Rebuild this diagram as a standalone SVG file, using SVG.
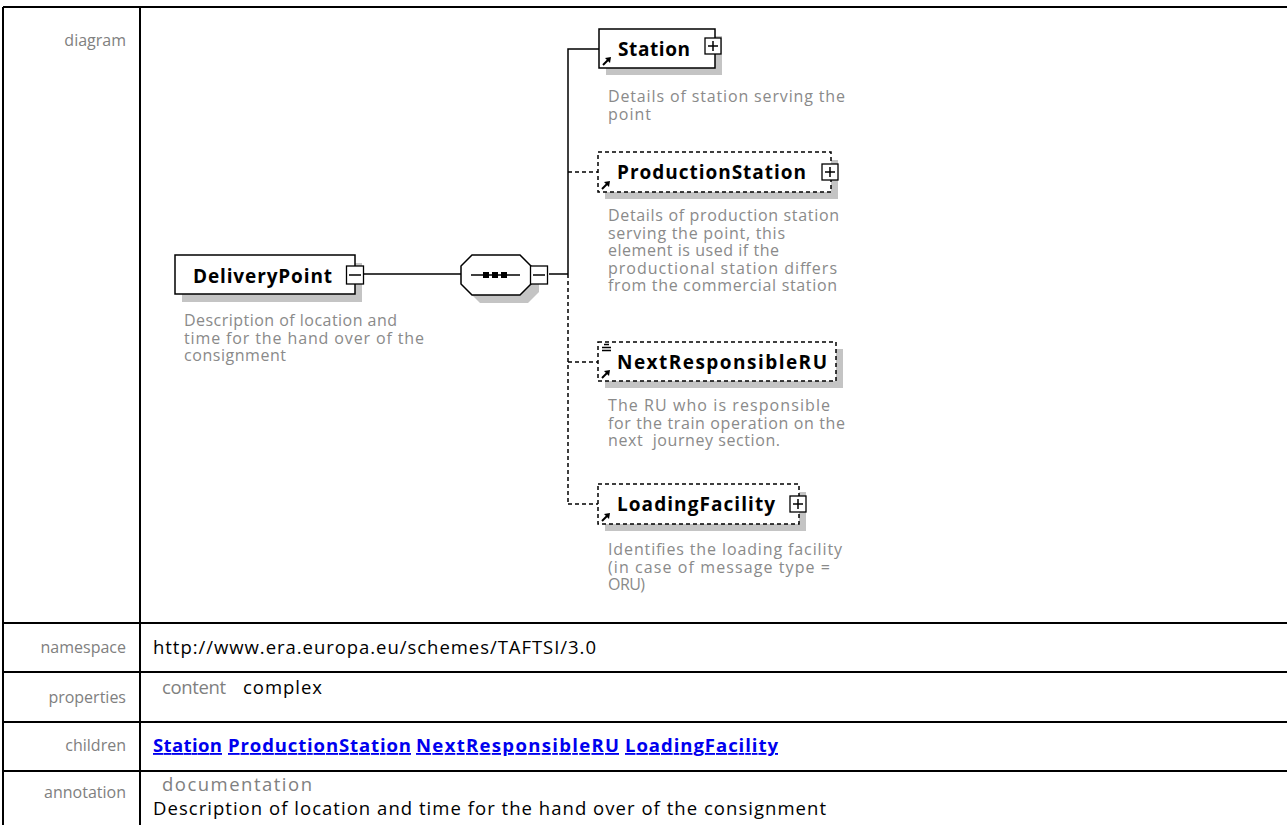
<svg xmlns="http://www.w3.org/2000/svg" width="1287" height="825" viewBox="0 0 1287 825">
<style>
.tbl{stroke:#000;stroke-width:2;fill:none}
.lbl{font-family:"Open Sans","Noto Sans",sans-serif;font-size:16px;fill:#808080}
.lbv{font-family:"Open Sans","Noto Sans",sans-serif;font-size:18.5px;fill:#808080}
.val{font-family:"Open Sans","Noto Sans",sans-serif;font-size:18.5px;fill:#000}
.lnk{font-family:"Open Sans","Noto Sans",sans-serif;font-size:18.5px;font-weight:bold;fill:#0000ee;text-decoration:underline}
.box{fill:#fff;stroke:#000;stroke-width:1.5}
.opt{stroke-dasharray:4 3}
.shd{fill:#c4c4c4}
.name{font-family:"Open Sans","Noto Sans",sans-serif;font-size:19px;font-weight:bold;fill:#000}
.desc{font-family:"Open Sans","Noto Sans",sans-serif;font-size:16px;fill:#8a8a8a}
.conn{stroke:#000;stroke-width:1.5;fill:none}
.dash{stroke-dasharray:4 3}
.pm{fill:#fff;stroke:#000;stroke-width:1.3}
</style>
<defs>
<g id="plus"><rect x="-8" y="-8" width="16" height="16" class="pm"/><path d="M-5 0H5M0-5V5" stroke="#000" stroke-width="1.5"/></g>
<g id="minus"><rect x="-8.5" y="-9" width="17" height="18" class="pm"/><path d="M-6 0H6" stroke="#000" stroke-width="1.5"/></g>
<g id="ref"><path d="M0 0L6-6" stroke="#000" stroke-width="2"/><path d="M8-8L2-7L7-2Z" fill="#000"/></g>
</defs>

<g id="table">
<path class="tbl" d="M3 7H1287M3 7V825M140 7V825M3 623H1287M3 672H1287M3 722H1287M3 771H1287"/>
<text class="lbl" x="126" y="46" text-anchor="end">diagram</text>
<text class="lbl" x="126" y="653" text-anchor="end">namespace</text>
<text class="lbl" x="126" y="703" text-anchor="end">properties</text>
<text class="lbl" x="126" y="751" text-anchor="end">children</text>
<text class="lbl" x="126" y="798" text-anchor="end">annotation</text>
<text class="val" x="153" y="654" textLength="443">http://www.era.europa.eu/schemes/TAFTSI/3.0</text>
<text class="lbv" x="162" y="694" textLength="64">content</text>
<text class="val" x="243" y="694" textLength="79">complex</text>
<text class="lnk" x="153" y="752" textLength="69">Station</text>
<text class="lnk" x="228" y="752" textLength="183">ProductionStation</text>
<text class="lnk" x="416" y="752" textLength="203">NextResponsibleRU</text>
<text class="lnk" x="625" y="752" textLength="153">LoadingFacility</text>
<text class="lbv" x="162" y="791" textLength="150">documentation</text>
<text class="val" x="153" y="815" textLength="673">Description of location and time for the hand over of the consignment</text>
</g>

<g id="connectors">
<path class="conn" d="M364 274H461M549 274H568M568 274V49H599"/>
<path class="conn dash" d="M568 274V504M568 172H598M568 362H598M568 504H598"/>
</g>

<g id="DeliveryPoint">
<rect class="shd" x="182" y="263" width="180" height="39"/>
<rect class="box" x="175" y="255" width="180" height="39"/>
<text class="name" x="193" y="283" textLength="139">DeliveryPoint</text>
<use href="#minus" x="355" y="275"/>
<text class="desc" x="184" y="326" textLength="213">Description of location and</text>
<text class="desc" x="184" y="343.5" textLength="240">time for the hand over of the</text>
<text class="desc" x="184" y="361" textLength="102">consignment</text>
</g>

<g id="sequence">
<polygon class="shd" points="480,263 528,263 539,274 539,292 528,303 480,303 469,292 469,274"/>
<polygon class="box" points="472,255 520,255 531,266 531,284 520,295 472,295 461,284 461,266"/>
<path d="M471 275H520" stroke="#000" stroke-width="1.5"/>
<rect x="483" y="272" width="6" height="6" fill="#000"/>
<rect x="492" y="272" width="6" height="6" fill="#000"/>
<rect x="501" y="272" width="6" height="6" fill="#000"/>
<use href="#minus" x="539" y="275"/>
</g>

<g id="Station">
<rect class="shd" x="606" y="36" width="116" height="39"/>
<rect class="box" x="599" y="29" width="116" height="39"/>
<use href="#ref" x="603" y="65"/>
<text class="name" x="618" y="56" textLength="72">Station</text>
<use href="#plus" x="713" y="46"/>
<text class="desc" x="608" y="102" textLength="237">Details of station serving the</text>
<text class="desc" x="608" y="119.5" textLength="43">point</text>
</g>

<g id="ProductionStation">
<rect class="shd" x="605" y="160" width="233" height="39"/>
<rect class="box opt" x="598" y="152" width="233" height="40"/>
<use href="#ref" x="602" y="189"/>
<text class="name" x="617" y="179" textLength="189">ProductionStation</text>
<use href="#plus" x="830" y="172"/>
<text class="desc" x="608" y="221" textLength="231">Details of production station</text>
<text class="desc" x="608" y="238.5" textLength="177">serving the point, this</text>
<text class="desc" x="608" y="256" textLength="171">element is used if the</text>
<text class="desc" x="608" y="273.5" textLength="229">productional station differs</text>
<text class="desc" x="608" y="291" textLength="229">from the commercial station</text>
</g>

<g id="NextResponsibleRU">
<rect class="shd" x="605" y="349" width="238" height="39"/>
<rect class="box opt" x="598" y="342" width="238" height="39"/>
<path d="M604 344.5H609M602 347.5H611M602 350.5H611" stroke="#000" stroke-width="1.3"/>
<use href="#ref" x="602" y="378"/>
<text class="name" x="617" y="369" textLength="210">NextResponsibleRU</text>
<text class="desc" x="608" y="411" textLength="222">The RU who is responsible</text>
<text class="desc" x="608" y="428.5" textLength="237">for the train operation on the</text>
<text class="desc" x="608" y="446" textLength="172" style="white-space:pre">next  journey section.</text>
</g>

<g id="LoadingFacility">
<rect class="shd" x="605" y="492" width="201" height="39"/>
<rect class="box opt" x="598" y="484" width="201" height="40"/>
<use href="#ref" x="602" y="521"/>
<text class="name" x="617" y="511" textLength="158">LoadingFacility</text>
<use href="#plus" x="798" y="504"/>
<text class="desc" x="608" y="555" textLength="234">Identifies the loading facility</text>
<text class="desc" x="608" y="572.5" textLength="222">(in case of message type =</text>
<text class="desc" x="608" y="590" textLength="37">ORU)</text>
</g>
</svg>
